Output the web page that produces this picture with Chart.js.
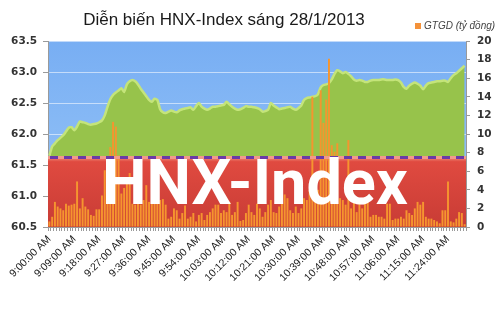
<!DOCTYPE html>
<html>
<head>
<meta charset="utf-8">
<script src="https://cdn.jsdelivr.net/npm/chart.js@4.4.1/dist/chart.umd.min.js"></script>
<style>
  html, body { margin: 0; padding: 0; background: #fff; }
  #wrap { width: 500px; height: 313px; }
</style>
</head>
<body>
<div id="wrap"><canvas id="chart" width="500" height="313"></canvas></div>
<script>
// Time axis: one point per minute, 9:00 -> 11:30
const startMinute = 9 * 60;
const pointCount = 151;
const timeLabels = [];
for (let i = 0; i < pointCount; i++) {
    const m = startMinute + i;
    const h = Math.floor(m / 60);
    const mm = String(m % 60).padStart(2, '0');
    timeLabels.push(h + ':' + mm + ':00 AM');
}

// HNX-Index values (left axis)
const indexValues = [
    61.65, 61.80, 61.85, 61.90, 61.94, 61.98, 62.04, 62.10, 62.11, 62.06,
    62.12, 62.20, 62.19, 62.18, 62.16, 62.15, 62.16, 62.17, 62.19, 62.22,
    62.30, 62.44, 62.56, 62.63, 62.67, 62.70, 62.74, 62.68, 62.80, 62.85,
    62.87, 62.85, 62.80, 62.73, 62.67, 62.61, 62.55, 62.52, 62.57, 62.55,
    62.40, 62.35, 62.34, 62.36, 62.38, 62.36, 62.35, 62.38, 62.40, 62.41,
    62.42, 62.43, 62.39, 62.45, 62.50, 62.44, 62.41, 62.39, 62.41, 62.44,
    62.44, 62.45, 62.46, 62.47, 62.52, 62.48, 62.44, 62.41, 62.39, 62.40,
    62.42, 62.45, 62.44, 62.44, 62.43, 62.42, 62.40, 62.36, 62.37, 62.39,
    62.50, 62.46, 62.43, 62.40, 62.41, 62.42, 62.43, 62.44, 62.41, 62.39,
    62.42, 62.46, 62.55, 62.58, 62.59, 62.60, 62.61, 62.64, 62.75, 62.79,
    62.80, 62.82, 62.88, 62.97, 63.03, 63.01, 62.98, 63.00, 62.97, 62.93,
    62.88, 62.86, 62.87, 62.86, 62.84, 62.84, 62.86, 62.87, 62.87, 62.87,
    62.88, 62.88, 62.87, 62.87, 62.87, 62.88, 62.87, 62.83, 62.76, 62.73,
    62.78, 62.81, 62.83, 62.81, 62.78, 62.72, 62.78, 62.82, 62.83, 62.84,
    62.85, 62.85, 62.86, 62.86, 62.84, 62.90, 62.95, 62.98, 63.02, 63.06,
    63.10
];

// GTGD per minute, billion dong (right axis)
const volumeValues = [
    0.6, 1.1, 2.7, 2.2, 2.0, 1.8, 2.5, 2.3, 2.4, 2.5,
    4.9, 2.0, 3.1, 2.2, 1.9, 1.3, 1.2, 1.9, 1.9, 3.4,
    6.1, 2.9, 8.6, 11.3, 10.8, 7.7, 3.6, 4.2, 4.9, 5.8,
    2.5, 2.4, 2.7, 2.4, 2.9, 4.5, 2.7, 2.7, 2.9, 2.7,
    2.9, 3.0, 2.4, 0.9, 1.1, 2.0, 1.8, 0.9, 1.5, 2.3,
    0.9, 1.1, 1.5, 0.6, 1.3, 1.5, 0.75, 1.3, 1.6, 2.0,
    2.4, 2.4, 1.5, 1.8, 1.6, 2.7, 1.3, 1.6, 2.7, 0.65,
    0.75, 1.5, 2.4, 1.6, 1.3, 2.5, 2.0, 1.1, 1.6, 2.4,
    2.9, 1.6, 1.5, 2.2, 3.6, 3.5, 3.1, 1.8, 1.5, 2.2,
    1.5, 2.0, 3.1, 2.9, 4.0, 14.0, 3.5, 4.0, 14.7, 11.2,
    13.7, 18.1, 8.8, 8.1, 9.0, 3.1, 2.9, 2.4, 9.35, 2.0,
    2.9, 1.6, 2.9, 2.0, 2.7, 2.7, 1.1, 1.3, 1.3, 1.1,
    1.1, 0.9, 2.5, 2.5, 0.75, 0.9, 0.9, 1.1, 0.9, 1.8,
    1.5, 1.3, 2.0, 2.7, 2.4, 2.7, 1.1, 0.9, 0.9, 0.75,
    0.6, 0.4, 1.8, 1.8, 4.9, 0.6, 0.5, 0.9, 1.6, 1.5,
    0.3
];

// Previous close (reference level)
const referenceLevel = 61.62;

const indexTicks = [60.5, 61.0, 61.5, 62.0, 62.5, 63.0, 63.5];
const volumeTicks = [0, 2, 4, 6, 8, 10, 12, 14, 16, 18, 20];

const titleText = 'Diễn biến HNX-Index sáng 28/1/2013';
const legendText = 'GTGD (tỷ đồng)';
const watermarkText = 'HNX-Index';

const backgroundPlugin = {
    id: 'panels',
    beforeDraw(chart) {
        const { ctx, chartArea: a } = chart;
        const refY = chart.scales.y.getPixelForValue(referenceLevel);
        ctx.save();
        const blue = ctx.createLinearGradient(0, a.top, 0, refY);
        blue.addColorStop(0, '#78aef3');
        blue.addColorStop(1, '#8cbdf6');
        ctx.fillStyle = blue;
        ctx.fillRect(a.left, a.top, a.right - a.left, refY - a.top);
        ctx.restore();
    },
    beforeDatasetsDraw(chart) {
        const { ctx, chartArea: a } = chart;
        const refY = chart.scales.y.getPixelForValue(referenceLevel);
        ctx.save();
        const red = ctx.createLinearGradient(0, refY, 0, a.bottom);
        red.addColorStop(0, '#f08a78');
        red.addColorStop(0.06, '#e04a40');
        red.addColorStop(1, '#c83c35');
        ctx.fillStyle = red;
        ctx.fillRect(a.left, refY, a.right - a.left, a.bottom - refY);
        ctx.restore();
    },
    afterDatasetsDraw(chart) {
        const { ctx, chartArea: a } = chart;
        const refY = chart.scales.y.getPixelForValue(referenceLevel);
        ctx.save();
        // reference line: pink base with purple dashes
        ctx.lineWidth = 3;
        ctx.strokeStyle = '#f29a8a';
        ctx.beginPath();
        ctx.moveTo(a.left, refY);
        ctx.lineTo(a.right, refY);
        ctx.stroke();
        ctx.strokeStyle = '#6a3aa8';
        ctx.setLineDash([8, 6]);
        ctx.beginPath();
        ctx.moveTo(a.left + 2, refY);
        ctx.lineTo(a.right, refY);
        ctx.stroke();
        ctx.setLineDash([]);

        // watermark
        ctx.fillStyle = '#ffffff';
        ctx.font = 'bold 63px Roboto';
        ctx.textAlign = 'center';
        ctx.textBaseline = 'alphabetic';
        ctx.fillText(watermarkText, 255, 204);
        ctx.restore();
    },
    afterDraw(chart) {
        const { ctx } = chart;
        ctx.save();
        ctx.fillStyle = '#1a1a1a';
        ctx.font = '17px "Liberation Sans"';
        ctx.textAlign = 'center';
        ctx.textBaseline = 'alphabetic';
        ctx.fillText(titleText, 224, 25);

        ctx.fillStyle = '#f4923a';
        ctx.fillRect(415, 23, 6, 6);
        ctx.fillStyle = '#444';
        ctx.font = 'italic 10px "Liberation Sans"';
        ctx.textAlign = 'left';
        ctx.textBaseline = 'middle';
        ctx.fillText(legendText, 424, 26.5);
        ctx.restore();
    }
};

const ctx = document.getElementById('chart').getContext('2d');
new Chart(ctx, {
    type: 'bar',
    data: {
        labels: timeLabels,
        datasets: [{
            type: 'bar',
            label: legendText,
            data: volumeValues,
            yAxisID: 'y1',
            backgroundColor: '#f5952f',
            borderWidth: 0,
            barPercentage: 0.7,
            categoryPercentage: 1.0,
            order: 1
        }, {
            type: 'line',
            label: 'HNX-Index',
            data: indexValues,
            yAxisID: 'y',
            borderColor: '#c4e47a',
            borderWidth: 2.5,
            backgroundColor: '#97c34b',
            fill: { value: referenceLevel },
            pointRadius: 0,
            tension: 0.2,
            order: 2
        }]
    },
    options: {
        responsive: false,
        animation: false,
        layout: { padding: { top: 41, left: 0, right: 0, bottom: 0 } },
        plugins: {
            legend: { display: false },
            title: { display: false },
            tooltip: { enabled: false }
        },
        scales: {
            x: {
                offset: true,
                border: { color: '#9a9a9a' },
                grid: { drawOnChartArea: false, tickLength: 4, color: '#9a9a9a', offset: true },
                ticks: {
                    autoSkip: false,
                    minRotation: 45,
                    maxRotation: 45,
                    padding: 2,
                    color: '#222',
                    font: { family: 'Liberation Sans', size: 10.5 },
                    callback: function (value, index) {
                        return index % 9 === 0 ? timeLabels[index] : '';
                    }
                },
                afterFit(scale) { scale.height = 86; }
            },
            y: {
                position: 'left',
                min: 60.5,
                max: 63.5,
                border: { color: '#9a9a9a' },
                grid: { color: 'rgba(255,255,255,0.55)', tickLength: 5, tickColor: '#9a9a9a' },
                afterBuildTicks(scale) { scale.ticks = indexTicks.map(v => ({ value: v })); },
                ticks: {
                    padding: 6,
                    color: '#333',
                    font: { family: 'DejaVu Sans', size: 10.5, weight: 'bold' },
                    callback: v => v.toFixed(1)
                },
                afterFit(scale) { scale.width = 48; }
            },
            y1: {
                position: 'right',
                min: 0,
                max: 20,
                border: { color: '#9a9a9a' },
                grid: { drawOnChartArea: false, tickLength: 4, color: '#9a9a9a' },
                afterBuildTicks(scale) { scale.ticks = volumeTicks.map(v => ({ value: v })); },
                ticks: {
                    padding: 7,
                    color: '#333',
                    font: { family: 'DejaVu Sans', size: 10.5, weight: 'bold' }
                },
                afterFit(scale) { scale.width = 34; }
            }
        }
    },
    plugins: [backgroundPlugin]
});
</script>
</body>
</html>
